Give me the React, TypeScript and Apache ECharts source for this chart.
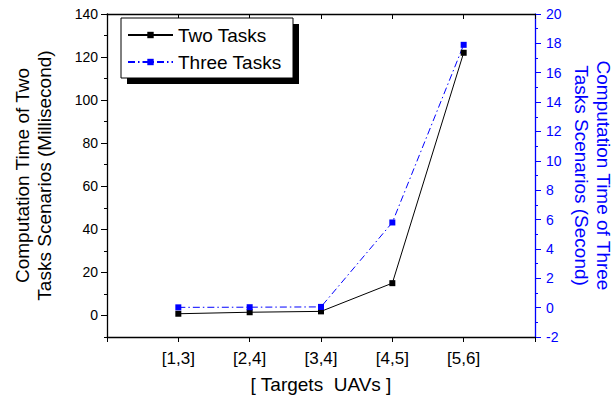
import React, { useEffect, useRef } from "react";
import * as echarts from "echarts";

const categories = ["[1,3]", "[2,4]", "[3,4]", "[4,5]", "[5,6]"];
const twoTasksMs = [0.8, 1.5, 1.9, 15, 122];
const threeTasksSec = [0.02, 0.03, 0.05, 5.8, 17.9];
const leftTicks = [0, 20, 40, 60, 80, 100, 120, 140];
const seriesNames = ["Two Tasks", "Three Tasks"];

const FONT = '"Liberation Sans", Arial, sans-serif';
const BLUE = "#0000ff";

export default function App() {
  const ref = useRef<HTMLDivElement>(null);
  useEffect(() => {
    if (!ref.current) return;
    const chart = echarts.init(ref.current, null, { renderer: "svg" });
    const option: any = {
      animation: false,
      backgroundColor: "#ffffff",
      textStyle: { fontFamily: FONT },
      grid: { left: 107, right: 78, top: 14, bottom: 67 },
      xAxis: [
        {
          type: "value",
          position: "bottom",
          min: 0,
          max: categories.length + 1,
          interval: 1,
          splitLine: { show: false },
          axisLine: { onZero: false, lineStyle: { color: "#000", width: 1.3 } },
          axisTick: { inside: false, length: 5, lineStyle: { color: "#000", width: 1 } },
          axisLabel: {
            formatter: (v: number) => categories[v - 1] ?? "",
            fontSize: 17,
            fontFamily: FONT,
            color: "#000",
            margin: 13,
          },
          name: "[ Targets  UAVs ]",
          nameLocation: "middle",
          nameGap: 38,
          nameTextStyle: { fontSize: 19, fontFamily: FONT, color: "#000" },
        },
        {
          type: "value",
          position: "top",
          min: 0,
          max: categories.length + 1,
          interval: 1,
          splitLine: { show: false },
          axisLine: { onZero: false, lineStyle: { color: "#000", width: 1.3 } },
          axisTick: { inside: true, length: 5, lineStyle: { color: "#000" } },
          axisLabel: { show: false },
        },
      ],
      yAxis: [
        {
          type: "value",
          position: "left",
          min: -10,
          max: 140,
          splitLine: { show: false },
          axisLine: { show: true, onZero: false, lineStyle: { color: "#000", width: 1.3 } },
          axisTick: { show: true, inside: false, length: 6, customValues: leftTicks, lineStyle: { color: "#000" } },
          axisLabel: {
            customValues: leftTicks,
            fontSize: 14,
            fontFamily: FONT,
            color: "#000",
            margin: 9,
          },
        },
        {
          type: "value",
          position: "right",
          min: -2,
          max: 20,
          interval: 2,
          splitLine: { show: false },
          axisLine: { show: true, onZero: false, lineStyle: { color: BLUE, width: 1.3 } },
          axisTick: { show: true, inside: false, length: 6, lineStyle: { color: BLUE } },
          minorTick: { show: true, splitNumber: 2, length: 3, lineStyle: { color: BLUE } },
          axisLabel: { fontSize: 14, fontFamily: FONT, color: BLUE, margin: 11 },
        },
        {
          type: "value",
          position: "left",
          min: -10,
          max: 140,
          interval: 10,
          splitLine: { show: false },
          axisLine: { show: false, onZero: false },
          axisTick: { show: true, inside: false, length: 3, lineStyle: { color: "#000" } },
          axisLabel: { show: false },
        },
      ],
      legend: {
        orient: "vertical",
        left: 127,
        top: 25,
        padding: 0,
        itemWidth: 45,
        itemHeight: 8,
        itemGap: 7,
        z: 20,
        data: seriesNames,
        textStyle: { fontSize: 19, fontFamily: FONT, color: "#000", lineHeight: 20 },
      },
      graphic: [
        { type: "rect", z: 10, shape: { x: 127, y: 24, width: 172, height: 60 }, style: { fill: "#000" } },
        {
          type: "rect",
          z: 11,
          shape: { x: 121, y: 18, width: 172, height: 60 },
          style: { fill: "#fff", stroke: "#000", lineWidth: 1 },
        },
        {
          type: "text",
          x: 33,
          y: 175.5,
          rotation: Math.PI / 2,
          style: {
            text: "Computation Time of Two\nTasks Scenarios (Millisecond)",
            fontSize: 19,
            fontFamily: FONT,
            fill: "#000",
            align: "center",
            verticalAlign: "middle",
            lineHeight: 22,
          },
        },
        {
          type: "text",
          x: 592,
          y: 175.5,
          rotation: -Math.PI / 2,
          style: {
            text: "Computation Time of Three\nTasks Scenarios (Second)",
            fontSize: 19,
            fontFamily: FONT,
            fill: BLUE,
            align: "center",
            verticalAlign: "middle",
            lineHeight: 22,
          },
        },
      ],
      series: [
        {
          name: seriesNames[0],
          type: "line",
          xAxisIndex: 0,
          yAxisIndex: 0,
          data: categories.map((_, i) => [i + 1, twoTasksMs[i]]),
          symbol: "rect",
          symbolSize: 6,
          itemStyle: { color: "#000" },
          lineStyle: { color: "#000", width: 1 },
        },
        {
          name: seriesNames[1],
          type: "line",
          xAxisIndex: 0,
          yAxisIndex: 1,
          data: categories.map((_, i) => [i + 1, threeTasksSec[i]]),
          symbol: "rect",
          symbolSize: 6,
          itemStyle: { color: BLUE },
          lineStyle: { color: BLUE, width: 1, type: [7, 3, 1.5, 3] },
        },
      ],
    };
    chart.setOption(option);
    return () => chart.dispose();
  }, []);
  return (
    <div
      ref={ref}
      style={{ position: "fixed", left: 0, top: 0, width: 613, height: 404, background: "#fff" }}
    />
  );
}
